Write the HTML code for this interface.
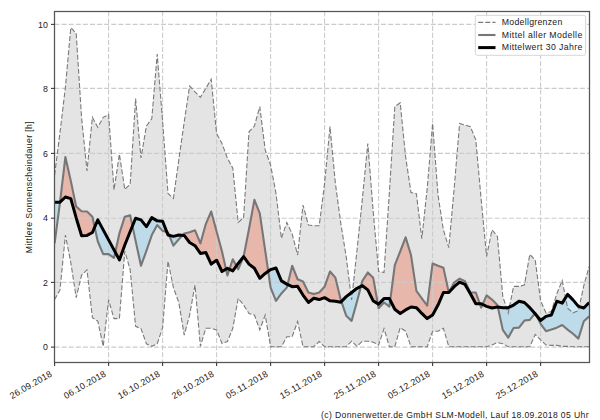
<!DOCTYPE html><html><head><meta charset="utf-8"><style>html,body{margin:0;padding:0;background:#fff;width:600px;height:420px;overflow:hidden}</style></head><body><svg width="600" height="420" viewBox="0 0 600 420" style="display:block">
<rect width="600" height="420" fill="#ffffff"/>
<defs><clipPath id="pc"><rect x="54.5" y="11.5" width="535.0" height="351.0"/></clipPath></defs>
<g clip-path="url(#pc)">
<polygon points="54.60,175.05 60.00,132.47 65.40,87.31 70.80,27.63 76.20,33.43 81.60,117.95 87.00,170.86 92.40,117.31 97.80,127.31 103.20,117.31 108.60,114.41 114.00,189.89 119.40,154.09 124.80,189.57 130.20,184.09 135.60,98.60 141.00,157.96 146.40,126.02 151.80,118.60 157.20,54.08 162.60,121.18 168.00,193.44 173.40,198.28 178.80,159.89 184.20,122.15 189.60,86.02 195.00,91.82 200.40,97.31 205.80,88.27 211.20,79.24 216.60,133.44 222.00,143.44 227.40,158.28 232.80,168.28 238.20,222.48 243.60,217.64 249.00,131.83 254.40,126.02 259.80,106.66 265.20,149.89 270.60,165.05 276.00,193.44 281.40,238.28 286.80,222.48 292.20,234.09 297.60,255.06 303.00,205.06 308.40,225.06 313.80,225.70 319.20,225.70 324.60,183.44 330.00,126.66 335.40,183.44 340.80,223.44 346.20,256.67 351.60,299.90 357.00,250.22 362.40,198.60 367.80,143.44 373.20,211.51 378.60,271.51 384.00,272.48 389.40,192.15 394.80,106.66 400.20,102.79 405.60,156.67 411.00,192.47 416.40,193.77 421.80,238.61 427.20,188.60 432.60,123.44 438.00,195.06 443.40,229.90 448.80,247.64 454.20,187.96 459.60,123.44 465.00,125.05 470.40,126.66 475.80,139.89 481.20,199.89 486.60,256.35 492.00,229.90 497.40,236.35 502.80,296.35 508.20,313.13 513.60,286.35 519.00,286.35 524.40,285.06 529.80,254.41 535.20,259.90 540.60,300.87 546.00,312.80 551.40,311.51 556.80,293.77 562.20,280.54 567.60,308.29 573.00,312.80 578.40,310.55 583.80,285.71 589.20,266.35 589.20,346.68 583.80,346.68 578.40,346.68 573.00,346.68 567.60,346.35 562.20,346.35 556.80,345.39 551.40,345.39 546.00,345.06 540.60,339.90 535.20,334.42 529.80,346.68 524.40,346.68 519.00,346.68 513.60,346.68 508.20,346.68 502.80,343.77 497.40,342.48 492.00,345.06 486.60,346.68 481.20,346.68 475.80,346.68 470.40,346.68 465.00,346.68 459.60,346.68 454.20,346.68 448.80,346.68 443.40,328.29 438.00,331.19 432.60,331.19 427.20,346.68 421.80,346.68 416.40,346.68 411.00,346.68 405.60,331.19 400.20,327.64 394.80,346.68 389.40,346.68 384.00,328.61 378.60,345.06 373.20,342.16 367.80,341.19 362.40,341.19 357.00,346.35 351.60,341.19 346.20,346.68 340.80,346.68 335.40,346.68 330.00,346.68 324.60,346.68 319.20,341.52 313.80,346.68 308.40,346.68 303.00,346.68 297.60,321.51 292.20,336.68 286.80,336.68 281.40,346.68 276.00,346.68 270.60,346.68 265.20,315.06 259.80,329.90 254.40,315.06 249.00,313.45 243.60,305.06 238.20,298.29 232.80,328.29 227.40,341.52 222.00,343.45 216.60,329.90 211.20,328.29 205.80,328.29 200.40,346.35 195.00,285.06 189.60,315.06 184.20,335.06 178.80,302.48 173.40,287.64 168.00,261.19 162.60,327.64 157.20,343.77 151.80,346.35 146.40,343.77 141.00,328.61 135.60,326.35 130.20,269.90 124.80,251.19 119.40,318.61 114.00,318.61 108.60,299.90 103.20,346.35 97.80,321.19 92.40,317.64 87.00,269.90 81.60,275.06 76.20,297.64 70.80,262.48 65.40,235.06 60.00,289.90 54.60,299.58" fill="#d3d3d3" fill-opacity="0.62" stroke="none"/>
<polygon points="54.60,243.45 60.00,202.48 60.04,202.11 60.04,202.11 60.00,202.15 54.60,202.15" fill="#8fd0ef" fill-opacity="0.45" stroke="none"/>
<polygon points="60.04,202.11 65.40,156.99 70.80,180.86 76.20,206.67 81.60,211.19 87.00,211.51 92.40,216.67 94.68,227.16 94.68,227.16 92.40,232.48 87.00,235.38 81.60,235.70 76.20,217.96 70.80,198.60 65.40,196.99 60.04,202.11" fill="#ed8068" fill-opacity="0.45" stroke="none"/>
<polygon points="94.68,227.16 97.80,241.51 103.20,254.09 108.60,254.09 114.00,257.96 115.26,252.23 115.26,252.23 114.00,249.90 108.60,239.90 103.20,229.90 97.80,219.90 94.68,227.16" fill="#8fd0ef" fill-opacity="0.45" stroke="none"/>
<polygon points="115.26,252.23 119.40,233.44 124.80,216.67 130.20,215.38 132.45,226.00 132.45,226.00 130.20,231.51 124.80,245.06 119.40,259.90 115.26,252.23" fill="#ed8068" fill-opacity="0.45" stroke="none"/>
<polygon points="132.45,226.00 135.60,240.86 141.00,265.70 146.40,250.87 151.80,235.06 157.20,225.06 162.60,230.86 166.86,232.14 166.86,232.14 162.60,221.19 157.20,220.86 151.80,217.64 146.40,226.67 141.00,219.90 135.60,218.28 132.45,226.00" fill="#8fd0ef" fill-opacity="0.45" stroke="none"/>
<polygon points="166.86,232.14 168.00,232.48 169.17,235.34 169.17,235.34 168.00,235.06 166.86,232.14" fill="#ed8068" fill-opacity="0.45" stroke="none"/>
<polygon points="169.17,235.34 173.40,245.70 178.80,239.25 182.49,235.28 182.49,235.28 178.80,235.06 173.40,236.35 169.17,235.34" fill="#8fd0ef" fill-opacity="0.45" stroke="none"/>
<polygon points="182.49,235.28 184.20,233.44 189.60,232.15 195.00,230.22 200.40,243.45 205.80,224.09 211.20,211.51 216.60,231.51 222.00,251.51 225.99,269.13 225.99,269.13 222.00,271.51 216.60,260.22 211.20,264.09 205.80,252.48 200.40,253.45 195.00,245.70 189.60,242.48 184.20,235.38 182.49,235.28" fill="#ed8068" fill-opacity="0.45" stroke="none"/>
<polygon points="225.99,269.13 227.40,275.38 229.45,269.26 229.45,269.26 227.40,268.29 225.99,269.13" fill="#8fd0ef" fill-opacity="0.45" stroke="none"/>
<polygon points="229.45,269.26 232.80,259.25 236.40,265.92 236.40,265.92 232.80,270.87 229.45,269.26" fill="#ed8068" fill-opacity="0.45" stroke="none"/>
<polygon points="236.40,265.92 238.20,269.25 243.60,256.67 243.60,256.67 238.20,263.45 236.40,265.92" fill="#8fd0ef" fill-opacity="0.45" stroke="none"/>
<polygon points="243.60,256.67 249.00,228.93 254.40,199.89 259.80,213.44 265.20,250.54 268.22,271.28 268.22,271.28 265.20,273.45 259.80,278.29 254.40,268.29 249.00,264.09 243.60,256.67" fill="#ed8068" fill-opacity="0.45" stroke="none"/>
<polygon points="268.22,271.28 270.60,287.64 276.00,300.87 281.40,293.45 286.80,287.64 287.58,284.47 287.58,284.47 286.80,284.09 281.40,280.87 276.00,267.96 270.60,269.58 268.22,271.28" fill="#8fd0ef" fill-opacity="0.45" stroke="none"/>
<polygon points="287.58,284.47 292.20,265.70 297.60,279.25 303.00,281.51 308.40,292.48 313.80,294.09 319.20,292.48 324.60,286.67 330.00,271.51 335.40,277.64 340.80,299.90 341.37,301.58 341.37,301.58 340.80,302.16 335.40,301.19 330.00,300.87 324.60,297.64 319.20,299.58 313.80,298.29 308.40,302.48 303.00,295.06 297.60,286.35 292.20,286.67 287.58,284.47" fill="#ed8068" fill-opacity="0.45" stroke="none"/>
<polygon points="341.37,301.58 346.20,315.71 351.60,320.87 357.00,301.51 360.95,286.40 360.95,286.40 357.00,288.29 351.60,292.48 346.20,296.67 341.37,301.58" fill="#8fd0ef" fill-opacity="0.45" stroke="none"/>
<polygon points="360.95,286.40 362.40,280.87 367.80,272.48 373.20,277.64 377.77,303.60 377.77,303.60 373.20,300.87 367.80,289.90 362.40,285.71 360.95,286.40" fill="#ed8068" fill-opacity="0.45" stroke="none"/>
<polygon points="377.77,303.60 378.60,308.29 384.00,302.48 389.40,306.68 390.23,300.25 390.23,300.25 389.40,298.61 384.00,298.61 378.60,304.09 377.77,303.60" fill="#8fd0ef" fill-opacity="0.45" stroke="none"/>
<polygon points="390.23,300.25 394.80,265.06 400.20,251.51 405.60,237.32 411.00,255.06 416.40,290.87 421.80,298.29 427.20,305.71 432.60,263.45 438.00,265.70 443.40,267.64 448.80,292.48 454.20,282.48 459.60,278.61 465.00,281.19 470.40,292.48 475.80,292.48 479.82,303.77 479.82,303.77 475.80,303.77 470.40,293.77 465.00,284.42 459.60,282.16 454.20,286.67 448.80,292.48 443.40,292.48 438.00,305.06 432.60,315.06 427.20,318.61 421.80,313.45 416.40,307.64 411.00,307.00 405.60,309.90 400.20,313.45 394.80,309.26 390.23,300.25" fill="#ed8068" fill-opacity="0.45" stroke="none"/>
<polygon points="479.82,303.77 481.20,307.64 482.61,304.44 482.61,304.44 481.20,303.77 479.82,303.77" fill="#8fd0ef" fill-opacity="0.45" stroke="none"/>
<polygon points="482.61,304.44 486.60,295.38 492.00,299.58 497.40,305.06 497.83,307.05 497.83,307.05 497.40,307.00 492.00,307.97 486.60,306.35 482.61,304.44" fill="#ed8068" fill-opacity="0.45" stroke="none"/>
<polygon points="497.83,307.05 502.80,329.90 508.20,337.64 513.60,327.97 519.00,327.64 524.40,320.55 529.80,319.90 534.93,313.47 534.93,313.47 529.80,307.64 524.40,302.48 519.00,301.19 513.60,305.06 508.20,307.64 502.80,307.64 497.83,307.05" fill="#8fd0ef" fill-opacity="0.45" stroke="none"/>
<polygon points="534.93,313.47 535.20,313.13 536.10,314.90 536.10,314.90 535.20,313.77 534.93,313.47" fill="#ed8068" fill-opacity="0.45" stroke="none"/>
<polygon points="536.10,314.90 540.60,323.77 546.00,331.19 551.40,329.58 556.80,327.64 562.20,325.06 567.60,329.58 573.00,333.77 578.40,338.61 583.80,321.19 589.20,316.35 589.20,302.48 583.80,307.97 578.40,306.35 573.00,299.90 567.60,294.42 562.20,303.13 556.80,301.19 551.40,315.06 546.00,316.35 540.60,320.55 536.10,314.90" fill="#8fd0ef" fill-opacity="0.45" stroke="none"/>
<g stroke="#cbcbcb" stroke-width="1.1" stroke-dasharray="5.0 2.1"><line x1="108.60" y1="11.5" x2="108.60" y2="362.5"/><line x1="162.60" y1="11.5" x2="162.60" y2="362.5"/><line x1="216.60" y1="11.5" x2="216.60" y2="362.5"/><line x1="270.60" y1="11.5" x2="270.60" y2="362.5"/><line x1="324.60" y1="11.5" x2="324.60" y2="362.5"/><line x1="378.60" y1="11.5" x2="378.60" y2="362.5"/><line x1="432.60" y1="11.5" x2="432.60" y2="362.5"/><line x1="486.60" y1="11.5" x2="486.60" y2="362.5"/><line x1="540.60" y1="11.5" x2="540.60" y2="362.5"/><line x1="54.5" y1="347.10" x2="589.5" y2="347.10"/><line x1="54.5" y1="282.40" x2="589.5" y2="282.40"/><line x1="54.5" y1="218.20" x2="589.5" y2="218.20"/><line x1="54.5" y1="153.40" x2="589.5" y2="153.40"/><line x1="54.5" y1="88.40" x2="589.5" y2="88.40"/><line x1="54.5" y1="24.40" x2="589.5" y2="24.40"/></g>
<polyline points="54.60,175.05 60.00,132.47 65.40,87.31 70.80,27.63 76.20,33.43 81.60,117.95 87.00,170.86 92.40,117.31 97.80,127.31 103.20,117.31 108.60,114.41 114.00,189.89 119.40,154.09 124.80,189.57 130.20,184.09 135.60,98.60 141.00,157.96 146.40,126.02 151.80,118.60 157.20,54.08 162.60,121.18 168.00,193.44 173.40,198.28 178.80,159.89 184.20,122.15 189.60,86.02 195.00,91.82 200.40,97.31 205.80,88.27 211.20,79.24 216.60,133.44 222.00,143.44 227.40,158.28 232.80,168.28 238.20,222.48 243.60,217.64 249.00,131.83 254.40,126.02 259.80,106.66 265.20,149.89 270.60,165.05 276.00,193.44 281.40,238.28 286.80,222.48 292.20,234.09 297.60,255.06 303.00,205.06 308.40,225.06 313.80,225.70 319.20,225.70 324.60,183.44 330.00,126.66 335.40,183.44 340.80,223.44 346.20,256.67 351.60,299.90 357.00,250.22 362.40,198.60 367.80,143.44 373.20,211.51 378.60,271.51 384.00,272.48 389.40,192.15 394.80,106.66 400.20,102.79 405.60,156.67 411.00,192.47 416.40,193.77 421.80,238.61 427.20,188.60 432.60,123.44 438.00,195.06 443.40,229.90 448.80,247.64 454.20,187.96 459.60,123.44 465.00,125.05 470.40,126.66 475.80,139.89 481.20,199.89 486.60,256.35 492.00,229.90 497.40,236.35 502.80,296.35 508.20,313.13 513.60,286.35 519.00,286.35 524.40,285.06 529.80,254.41 535.20,259.90 540.60,300.87 546.00,312.80 551.40,311.51 556.80,293.77 562.20,280.54 567.60,308.29 573.00,312.80 578.40,310.55 583.80,285.71 589.20,266.35" fill="none" stroke="#7a7a7a" stroke-width="1.1" stroke-dasharray="5.0 2.1"/>
<polyline points="54.60,299.58 60.00,289.90 65.40,235.06 70.80,262.48 76.20,297.64 81.60,275.06 87.00,269.90 92.40,317.64 97.80,321.19 103.20,346.35 108.60,299.90 114.00,318.61 119.40,318.61 124.80,251.19 130.20,269.90 135.60,326.35 141.00,328.61 146.40,343.77 151.80,346.35 157.20,343.77 162.60,327.64 168.00,261.19 173.40,287.64 178.80,302.48 184.20,335.06 189.60,315.06 195.00,285.06 200.40,346.35 205.80,328.29 211.20,328.29 216.60,329.90 222.00,343.45 227.40,341.52 232.80,328.29 238.20,298.29 243.60,305.06 249.00,313.45 254.40,315.06 259.80,329.90 265.20,315.06 270.60,346.68 276.00,346.68 281.40,346.68 286.80,336.68 292.20,336.68 297.60,321.51 303.00,346.68 308.40,346.68 313.80,346.68 319.20,341.52 324.60,346.68 330.00,346.68 335.40,346.68 340.80,346.68 346.20,346.68 351.60,341.19 357.00,346.35 362.40,341.19 367.80,341.19 373.20,342.16 378.60,345.06 384.00,328.61 389.40,346.68 394.80,346.68 400.20,327.64 405.60,331.19 411.00,346.68 416.40,346.68 421.80,346.68 427.20,346.68 432.60,331.19 438.00,331.19 443.40,328.29 448.80,346.68 454.20,346.68 459.60,346.68 465.00,346.68 470.40,346.68 475.80,346.68 481.20,346.68 486.60,346.68 492.00,345.06 497.40,342.48 502.80,343.77 508.20,346.68 513.60,346.68 519.00,346.68 524.40,346.68 529.80,346.68 535.20,334.42 540.60,339.90 546.00,345.06 551.40,345.39 556.80,345.39 562.20,346.35 567.60,346.35 573.00,346.68 578.40,346.68 583.80,346.68 589.20,346.68" fill="none" stroke="#7a7a7a" stroke-width="1.1" stroke-dasharray="5.0 2.1"/>
<polyline points="54.60,243.45 60.00,202.48 65.40,156.99 70.80,180.86 76.20,206.67 81.60,211.19 87.00,211.51 92.40,216.67 97.80,241.51 103.20,254.09 108.60,254.09 114.00,257.96 119.40,233.44 124.80,216.67 130.20,215.38 135.60,240.86 141.00,265.70 146.40,250.87 151.80,235.06 157.20,225.06 162.60,230.86 168.00,232.48 173.40,245.70 178.80,239.25 184.20,233.44 189.60,232.15 195.00,230.22 200.40,243.45 205.80,224.09 211.20,211.51 216.60,231.51 222.00,251.51 227.40,275.38 232.80,259.25 238.20,269.25 243.60,256.67 249.00,228.93 254.40,199.89 259.80,213.44 265.20,250.54 270.60,287.64 276.00,300.87 281.40,293.45 286.80,287.64 292.20,265.70 297.60,279.25 303.00,281.51 308.40,292.48 313.80,294.09 319.20,292.48 324.60,286.67 330.00,271.51 335.40,277.64 340.80,299.90 346.20,315.71 351.60,320.87 357.00,301.51 362.40,280.87 367.80,272.48 373.20,277.64 378.60,308.29 384.00,302.48 389.40,306.68 394.80,265.06 400.20,251.51 405.60,237.32 411.00,255.06 416.40,290.87 421.80,298.29 427.20,305.71 432.60,263.45 438.00,265.70 443.40,267.64 448.80,292.48 454.20,282.48 459.60,278.61 465.00,281.19 470.40,292.48 475.80,292.48 481.20,307.64 486.60,295.38 492.00,299.58 497.40,305.06 502.80,329.90 508.20,337.64 513.60,327.97 519.00,327.64 524.40,320.55 529.80,319.90 535.20,313.13 540.60,323.77 546.00,331.19 551.40,329.58 556.80,327.64 562.20,325.06 567.60,329.58 573.00,333.77 578.40,338.61 583.80,321.19 589.20,316.35" fill="none" stroke="#777777" stroke-width="2.1" stroke-linejoin="round"/>
<polyline points="54.60,202.15 60.00,202.15 65.40,196.99 70.80,198.60 76.20,217.96 81.60,235.70 87.00,235.38 92.40,232.48 97.80,219.90 103.20,229.90 108.60,239.90 114.00,249.90 119.40,259.90 124.80,245.06 130.20,231.51 135.60,218.28 141.00,219.90 146.40,226.67 151.80,217.64 157.20,220.86 162.60,221.19 168.00,235.06 173.40,236.35 178.80,235.06 184.20,235.38 189.60,242.48 195.00,245.70 200.40,253.45 205.80,252.48 211.20,264.09 216.60,260.22 222.00,271.51 227.40,268.29 232.80,270.87 238.20,263.45 243.60,256.67 249.00,264.09 254.40,268.29 259.80,278.29 265.20,273.45 270.60,269.58 276.00,267.96 281.40,280.87 286.80,284.09 292.20,286.67 297.60,286.35 303.00,295.06 308.40,302.48 313.80,298.29 319.20,299.58 324.60,297.64 330.00,300.87 335.40,301.19 340.80,302.16 346.20,296.67 351.60,292.48 357.00,288.29 362.40,285.71 367.80,289.90 373.20,300.87 378.60,304.09 384.00,298.61 389.40,298.61 394.80,309.26 400.20,313.45 405.60,309.90 411.00,307.00 416.40,307.64 421.80,313.45 427.20,318.61 432.60,315.06 438.00,305.06 443.40,292.48 448.80,292.48 454.20,286.67 459.60,282.16 465.00,284.42 470.40,293.77 475.80,303.77 481.20,303.77 486.60,306.35 492.00,307.97 497.40,307.00 502.80,307.64 508.20,307.64 513.60,305.06 519.00,301.19 524.40,302.48 529.80,307.64 535.20,313.77 540.60,320.55 546.00,316.35 551.40,315.06 556.80,301.19 562.20,303.13 567.60,294.42 573.00,299.90 578.40,306.35 583.80,307.97 589.20,302.48" fill="none" stroke="#000000" stroke-width="3.0" stroke-linejoin="round"/>
</g>
<rect x="54.5" y="11.5" width="535.00" height="351.00" fill="none" stroke="#555555" stroke-width="1.25"/>
<g stroke="#3a3a3a" stroke-width="1.1"><line x1="51.0" y1="347.10" x2="54.5" y2="347.10"/><line x1="51.0" y1="282.40" x2="54.5" y2="282.40"/><line x1="51.0" y1="218.20" x2="54.5" y2="218.20"/><line x1="51.0" y1="153.40" x2="54.5" y2="153.40"/><line x1="51.0" y1="88.40" x2="54.5" y2="88.40"/><line x1="51.0" y1="24.40" x2="54.5" y2="24.40"/><line x1="54.60" y1="362.5" x2="54.60" y2="366.0"/><line x1="108.60" y1="362.5" x2="108.60" y2="366.0"/><line x1="162.60" y1="362.5" x2="162.60" y2="366.0"/><line x1="216.60" y1="362.5" x2="216.60" y2="366.0"/><line x1="270.60" y1="362.5" x2="270.60" y2="366.0"/><line x1="324.60" y1="362.5" x2="324.60" y2="366.0"/><line x1="378.60" y1="362.5" x2="378.60" y2="366.0"/><line x1="432.60" y1="362.5" x2="432.60" y2="366.0"/><line x1="486.60" y1="362.5" x2="486.60" y2="366.0"/><line x1="540.60" y1="362.5" x2="540.60" y2="366.0"/></g>
<g font-family="Liberation Sans, sans-serif" font-size="8.8" fill="#202020"><text x="47.9" y="350.20" text-anchor="end">0</text><text x="47.9" y="285.50" text-anchor="end">2</text><text x="47.9" y="221.30" text-anchor="end">4</text><text x="47.9" y="156.50" text-anchor="end">6</text><text x="47.9" y="91.50" text-anchor="end">8</text><text x="47.9" y="27.50" text-anchor="end">10</text></g>
<g font-family="Liberation Sans, sans-serif" font-size="9" fill="#202020"><text transform="translate(52.60,375.70) rotate(-30)" text-anchor="end" textLength="47" lengthAdjust="spacing">26.09.2018</text><text transform="translate(106.60,375.70) rotate(-30)" text-anchor="end" textLength="47" lengthAdjust="spacing">06.10.2018</text><text transform="translate(160.60,375.70) rotate(-30)" text-anchor="end" textLength="47" lengthAdjust="spacing">16.10.2018</text><text transform="translate(214.60,375.70) rotate(-30)" text-anchor="end" textLength="47" lengthAdjust="spacing">26.10.2018</text><text transform="translate(268.60,375.70) rotate(-30)" text-anchor="end" textLength="47" lengthAdjust="spacing">05.11.2018</text><text transform="translate(322.60,375.70) rotate(-30)" text-anchor="end" textLength="47" lengthAdjust="spacing">15.11.2018</text><text transform="translate(376.60,375.70) rotate(-30)" text-anchor="end" textLength="47" lengthAdjust="spacing">25.11.2018</text><text transform="translate(430.60,375.70) rotate(-30)" text-anchor="end" textLength="47" lengthAdjust="spacing">05.12.2018</text><text transform="translate(484.60,375.70) rotate(-30)" text-anchor="end" textLength="47" lengthAdjust="spacing">15.12.2018</text><text transform="translate(538.60,375.70) rotate(-30)" text-anchor="end" textLength="47" lengthAdjust="spacing">25.12.2018</text></g>
<text transform="translate(31.5,187.2) rotate(-90)" text-anchor="middle" textLength="132" lengthAdjust="spacing" font-family="Liberation Sans, sans-serif" font-size="8.8" fill="#202020">Mittlere Sonnenscheindauer [h]</text>
<rect x="475.3" y="15.3" width="110.3" height="40" rx="2" ry="2" fill="#ffffff" fill-opacity="0.9" stroke="#d6d6d6" stroke-width="1"/>
<line x1="478.2" y1="22.4" x2="495.5" y2="22.4" stroke="#7a7a7a" stroke-width="1.1" stroke-dasharray="5.0 2.1"/>
<line x1="478.2" y1="35.0" x2="495.5" y2="35.0" stroke="#777777" stroke-width="2.1"/>
<line x1="478.2" y1="47.6" x2="495.5" y2="47.6" stroke="#000000" stroke-width="3.0"/>
<g font-family="Liberation Sans, sans-serif" font-size="8.7" fill="#202020"><text x="501.8" y="24.80" textLength="60.5" lengthAdjust="spacing">Modellgrenzen</text><text x="501.8" y="37.75" textLength="80.5" lengthAdjust="spacing">Mittel aller Modelle</text><text x="501.8" y="50.10" textLength="80.5" lengthAdjust="spacing">Mittelwert 30 Jahre</text></g>
<text x="321" y="417.8" textLength="267.5" lengthAdjust="spacing" font-family="Liberation Sans, sans-serif" font-size="8.6" fill="#202020">(c) Donnerwetter.de GmbH SLM-Modell, Lauf 18.09.2018 05 Uhr</text>
</svg></body></html>
